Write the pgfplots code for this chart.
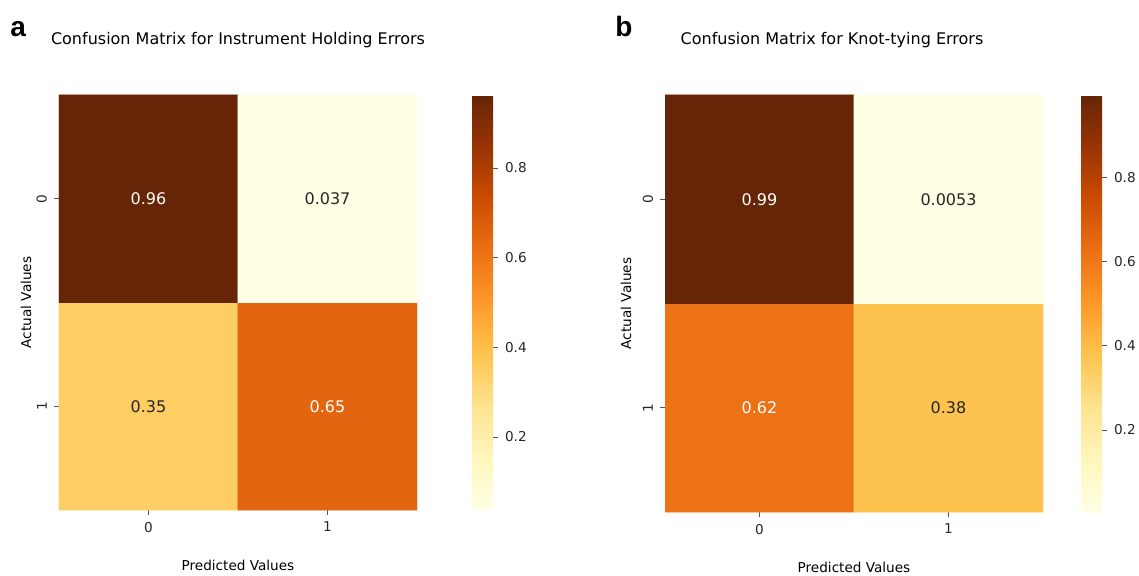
\documentclass[border=0pt]{standalone}
\usepackage{fontspec}
\setmainfont{DejaVu Sans}
\newfontfamily\panelfont{Liberation Sans}
\usepackage{pgfplots}
\pgfplotsset{compat=1.18}
\definecolor{txtdark}{HTML}{262626}
\definecolor{tickgray}{HTML}{555555}
\pgfplotsset{
  colormap={ylorbr}{rgb255(0)=(255,255,229) rgb255(1)=(255,247,188) rgb255(2)=(254,227,145) rgb255(3)=(254,196,79) rgb255(4)=(254,153,41) rgb255(5)=(236,112,20) rgb255(6)=(204,76,2) rgb255(7)=(153,52,4) rgb255(8)=(102,37,6)},
  cmstyle/.style={
    colormap name=ylorbr,
    scale only axis,
    xmin=-0.5, xmax=1.5, ymin=-0.5, ymax=1.5,
    enlargelimits=false,
    axis line style={draw=none},
    xtick={0,1}, xticklabels={0,1},
    ytick={0,1}, yticklabels={1,0},
    xtick pos=left, ytick pos=left,
    tick align=outside,
    major tick length=2.5pt,
    tick style={draw=tickgray, line width=0.4pt},
    xticklabel style={font=\fontsize{6.8}{8}\selectfont, text=txtdark},
    yticklabel style={font=\fontsize{6.8}{8}\selectfont, text=txtdark, rotate=90, anchor=south},
    title style={font=\fontsize{8}{9.6}\selectfont, text=black, at={(0.5,1)}, anchor=base, yshift=19pt},
    xlabel style={font=\fontsize{6.8}{8}\selectfont, text=black},
    ylabel style={font=\fontsize{6.8}{8}\selectfont, text=black, rotate=0},
    colorbar,
    colorbar style={
      scale only axis,
      width=10.5pt,
      at={(parent axis.north east)}, anchor=north west,
      ytick={0.2,0.4,0.6,0.8}, yticklabels={0.2,0.4,0.6,0.8},
      yticklabel style={font=\fontsize{6.8}{8}\selectfont, text=txtdark},
      axis line style={draw=none},
      major tick length=2.5pt,
      tick style={draw=tickgray, line width=0.4pt},
      tick align=outside,
      ytick pos=right,
    },
  },
  annot/.style={draw=none, mark=none, nodes near coords, point meta=explicit symbolic,
    nodes near coords style={anchor=center, font=\fontsize{8}{9.6}\selectfont, text=#1}},
}
\begin{document}
\begin{tikzpicture}
\useasboundingbox (0pt,0pt) rectangle (569.5pt,-288pt);
% Panel a
\begin{axis}[cmstyle,
  at={(29.5pt,-255pt)}, anchor=south west,
  width=179pt, height=207.5pt,
  point meta min=0.037, point meta max=0.963,
  colorbar shift/.style={xshift=27.5pt},
  title={Confusion Matrix for Instrument Holding Errors},
  xlabel={Predicted Values},
  ylabel={Actual Values},
  xlabel style={at={(axis description cs:0.5,-0.1325)}, anchor=center},
  ylabel style={at={(axis description cs:-0.092,0.5)}, anchor=center, rotate=0},
]
\addplot[matrix plot*, mesh/cols=2, mesh/rows=2, point meta=explicit] coordinates {
  (0,0) [0.35] (1,0) [0.65]
  (0,1) [0.963] (1,1) [0.037]
};
\addplot[annot=white] coordinates {(0,1) [0.96] (1,0) [0.65]};
\addplot[annot=txtdark] coordinates {(1,1) [0.037] (0,0) [0.35]};
\end{axis}
% Panel b
\begin{axis}[cmstyle,
  at={(332.5pt,-256pt)}, anchor=south west,
  width=189pt, height=208.5pt,
  point meta min=0.0053, point meta max=0.9947,
  colorbar shift/.style={xshift=19pt},
  title={Confusion Matrix for Knot-tying Errors},
  title style={xshift=-11pt},
  xlabel={Predicted Values},
  ylabel={Actual Values},
  xlabel style={at={(axis description cs:0.5,-0.134)}, anchor=center},
  ylabel style={at={(axis description cs:-0.103,0.5)}, anchor=center, rotate=0},
]
\addplot[matrix plot*, mesh/cols=2, mesh/rows=2, point meta=explicit] coordinates {
  (0,0) [0.62] (1,0) [0.38]
  (0,1) [0.9947] (1,1) [0.0053]
};
\addplot[annot=white] coordinates {(0,1) [0.99] (0,0) [0.62]};
\addplot[annot=txtdark] coordinates {(1,1) [0.0053] (1,0) [0.38]};
\end{axis}
\node[anchor=base west, inner sep=0pt, font=\panelfont\bfseries\fontsize{14}{16}\selectfont] at (5pt,-18.5pt) {a};
\node[anchor=base west, inner sep=0pt, font=\panelfont\bfseries\fontsize{14}{16}\selectfont] at (307.5pt,-18.5pt) {b};
\end{tikzpicture}
\end{document}
